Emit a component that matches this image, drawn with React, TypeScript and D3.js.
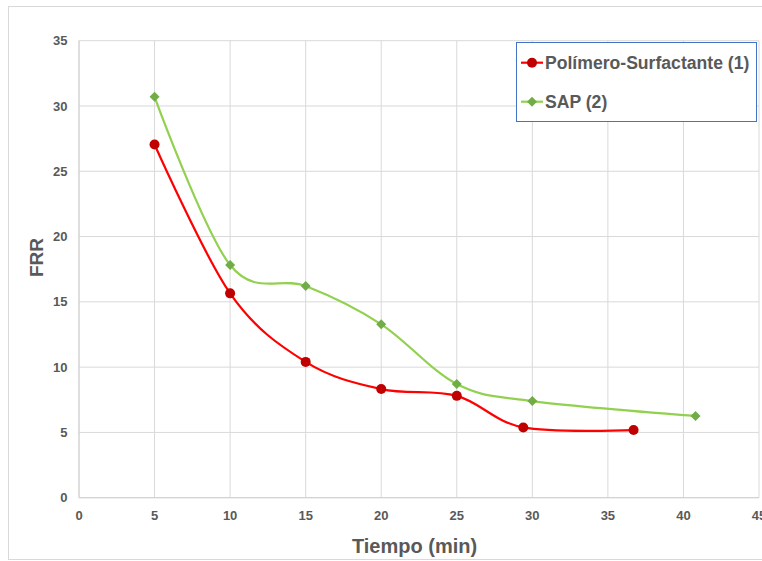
import React from "react";
import * as d3 from "d3";

const seriesNames = ["Polímero-Surfactante (1)", "SAP (2)"];
const polX = [5, 10, 15, 20, 25, 29.4, 36.7];
const polY = [27.05, 15.65, 10.4, 8.32, 7.8, 5.38, 5.18];
const sapX = [5, 10, 15, 20, 25, 30, 40.8];
const sapY = [30.7, 17.82, 16.21, 13.28, 8.71, 7.4, 6.26];
const xTicks = [0, 5, 10, 15, 20, 25, 30, 35, 40, 45];
const yTicks = [0, 5, 10, 15, 20, 25, 30, 35];

const W = 762;
const H = 561;
const FONT = "'Liberation Sans', Arial, sans-serif";
const TXT = "#595959";

export default function App() {
  const x = d3.scaleLinear().domain([0, 45]).range([79, 759]);
  const y = d3.scaleLinear().domain([0, 35]).range([497.7, 40.7]);
  const line = d3
    .line<[number, number]>()
    .x((d) => x(d[0]))
    .y((d) => y(d[1]))
    .curve(d3.curveCardinal.tension(0));
  const pol: [number, number][] = polX.map((v, i) => [v, polY[i]]);
  const sap: [number, number][] = sapX.map((v, i) => [v, sapY[i]]);
  const diamond = (cx: number, cy: number, r: number) =>
    `M${cx},${cy - r}L${cx + r},${cy}L${cx},${cy + r}L${cx - r},${cy}Z`;

  return (
    <svg
      width={W}
      height={H}
      style={{ position: "absolute", left: 0, top: 0 }}
      fontFamily={FONT}
    >
      <rect x={0} y={0} width={W} height={H} fill="#fff" />
      <rect x={8.5} y={6.5} width={W} height={553} fill="#fff" stroke="#d9d9d9" strokeWidth={1} />
      {/* gridlines */}
      {yTicks.map((t) => (
        <line key={"gy" + t} x1={x(0)} x2={x(45)} y1={y(t)} y2={y(t)} stroke="#d9d9d9" strokeWidth={1} />
      ))}
      {xTicks.map((t) => (
        <line key={"gx" + t} x1={x(t)} x2={x(t)} y1={y(0)} y2={y(35)} stroke="#d9d9d9" strokeWidth={1} />
      ))}
      <line x1={x(0)} x2={x(45)} y1={y(0)} y2={y(0)} stroke="#d0d0d0" strokeWidth={1} />
      <line x1={x(0)} x2={x(0)} y1={y(0)} y2={y(35)} stroke="#d0d0d0" strokeWidth={1} />
      {/* tick labels */}
      {yTicks.map((t) => (
        <text key={"ty" + t} x={67.5} y={y(t)} dy="0.35em" textAnchor="end" fontSize={13} fontWeight="bold" fill={TXT}>
          {t}
        </text>
      ))}
      {xTicks.map((t) => (
        <text key={"tx" + t} x={x(t)} y={519.5} textAnchor="middle" fontSize={13} fontWeight="bold" fill={TXT}>
          {t}
        </text>
      ))}
      {/* axis titles */}
      <text x={414.5} y={553} textAnchor="middle" fontSize={20} fontWeight="bold" fill={TXT}>
        Tiempo (min)
      </text>
      <text
        transform="translate(42.5,257.5) rotate(-90)"
        textAnchor="middle"
        fontSize={19}
        fontWeight="bold"
        fill={TXT}
      >
        FRR
      </text>
      {/* series */}
      <path d={line(sap) || ""} fill="none" stroke="#92d050" strokeWidth={2.2} />
      <path d={line(pol) || ""} fill="none" stroke="#ff0000" strokeWidth={2.2} />
      {sap.map((d, i) => (
        <path key={"s" + i} d={diamond(x(d[0]), y(d[1]), 5)} fill="#70ad47" />
      ))}
      {pol.map((d, i) => (
        <circle key={"p" + i} cx={x(d[0])} cy={y(d[1])} r={5} fill="#c00000" />
      ))}
      {/* legend */}
      <rect x={516.5} y={42.5} width={240} height={79} fill="#fff" stroke="#4472c4" strokeWidth={1} />
      <line x1={521} x2={543} y1={62.7} y2={62.7} stroke="#ff0000" strokeWidth={2.2} />
      <circle cx={532} cy={62.7} r={5} fill="#c00000" />
      <text x={545} y={68.5} fontSize={17.6} fontWeight="bold" fill={TXT}>
        {seriesNames[0]}
      </text>
      <line x1={521} x2={543} y1={101.7} y2={101.7} stroke="#92d050" strokeWidth={2.2} />
      <path d={diamond(532, 101.7, 5)} fill="#70ad47" />
      <text x={545} y={108.3} fontSize={17.6} fontWeight="bold" fill={TXT}>
        {seriesNames[1]}
      </text>
    </svg>
  );
}
